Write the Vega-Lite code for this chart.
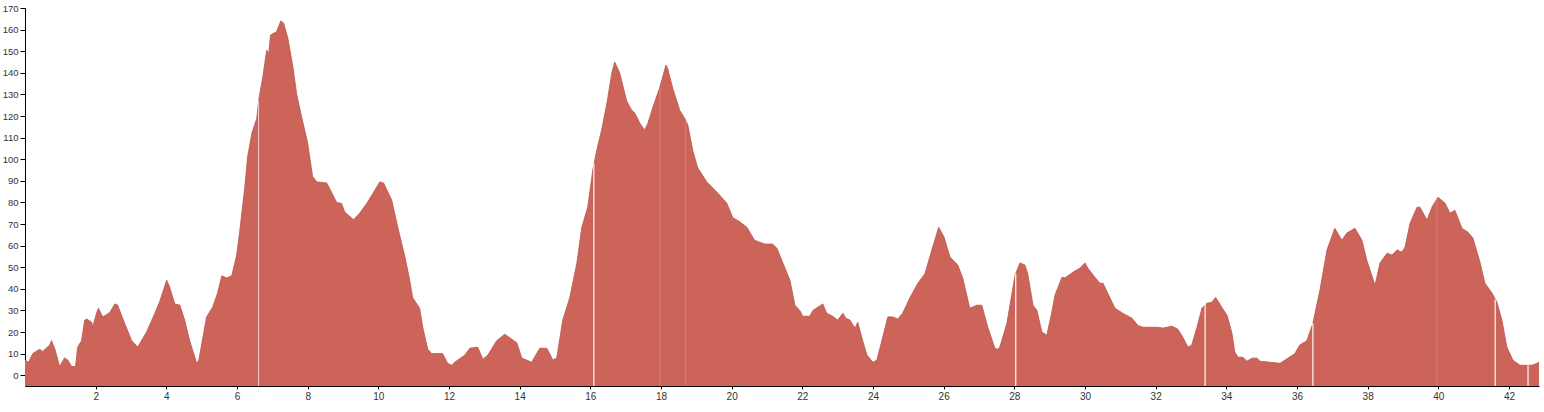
{
  "$schema": "https://vega.github.io/schema/vega-lite/v6.json",
  "width": 1514,
  "height": 378,
  "autosize": {"type": "none"},
  "padding": {"left": 25, "top": 8, "right": 5, "bottom": 26},
  "background": "white",
  "config": {"view": {"stroke": null}, "font": "Liberation Sans"},
  "datasets": {
    "profile": [
      {"km": 0.0, "elev": 7}, {"km": 0.1, "elev": 6}, {"km": 0.22, "elev": 10}, {"km": 0.41, "elev": 12},
      {"km": 0.5, "elev": 11}, {"km": 0.7, "elev": 14}, {"km": 0.75, "elev": 16}, {"km": 0.84, "elev": 12.5},
      {"km": 0.98, "elev": 4}, {"km": 1.12, "elev": 8}, {"km": 1.21, "elev": 7}, {"km": 1.32, "elev": 4},
      {"km": 1.43, "elev": 4}, {"km": 1.49, "elev": 13}, {"km": 1.6, "elev": 16}, {"km": 1.69, "elev": 25.5},
      {"km": 1.75, "elev": 26}, {"km": 1.89, "elev": 24.5}, {"km": 1.91, "elev": 22}, {"km": 2.03, "elev": 29},
      {"km": 2.08, "elev": 31}, {"km": 2.2, "elev": 27}, {"km": 2.4, "elev": 29}, {"km": 2.54, "elev": 33},
      {"km": 2.62, "elev": 32.5}, {"km": 2.82, "elev": 24}, {"km": 3.02, "elev": 16}, {"km": 3.19, "elev": 13},
      {"km": 3.44, "elev": 20}, {"km": 3.67, "elev": 28.5}, {"km": 3.81, "elev": 34}, {"km": 4.01, "elev": 44},
      {"km": 4.09, "elev": 41}, {"km": 4.24, "elev": 33}, {"km": 4.38, "elev": 32.5}, {"km": 4.52, "elev": 25.5},
      {"km": 4.66, "elev": 16}, {"km": 4.86, "elev": 5.5}, {"km": 4.92, "elev": 7}, {"km": 5.14, "elev": 27},
      {"km": 5.31, "elev": 31.5}, {"km": 5.45, "elev": 38}, {"km": 5.57, "elev": 46}, {"km": 5.71, "elev": 45},
      {"km": 5.85, "elev": 46}, {"km": 5.99, "elev": 55.5}, {"km": 6.08, "elev": 67}, {"km": 6.22, "elev": 87},
      {"km": 6.3, "elev": 101}, {"km": 6.42, "elev": 112}, {"km": 6.56, "elev": 119}, {"km": 6.61, "elev": 127},
      {"km": 6.73, "elev": 138}, {"km": 6.84, "elev": 150.5}, {"km": 6.9, "elev": 149}, {"km": 6.95, "elev": 157.5},
      {"km": 7.12, "elev": 159}, {"km": 7.24, "elev": 164}, {"km": 7.32, "elev": 163}, {"km": 7.44, "elev": 156},
      {"km": 7.58, "elev": 143}, {"km": 7.69, "elev": 130}, {"km": 7.83, "elev": 119.5}, {"km": 8.0, "elev": 107.5},
      {"km": 8.14, "elev": 92}, {"km": 8.26, "elev": 89.5}, {"km": 8.54, "elev": 89}, {"km": 8.62, "elev": 86.5},
      {"km": 8.82, "elev": 80}, {"km": 8.96, "elev": 79.5}, {"km": 9.05, "elev": 75.5}, {"km": 9.3, "elev": 72},
      {"km": 9.47, "elev": 75}, {"km": 9.67, "elev": 79.5}, {"km": 9.84, "elev": 84}, {"km": 10.04, "elev": 89.5},
      {"km": 10.15, "elev": 89}, {"km": 10.38, "elev": 81}, {"km": 10.55, "elev": 68.5}, {"km": 10.75, "elev": 55},
      {"km": 10.89, "elev": 44}, {"km": 10.97, "elev": 36}, {"km": 11.17, "elev": 31}, {"km": 11.26, "elev": 22},
      {"km": 11.4, "elev": 12}, {"km": 11.51, "elev": 10}, {"km": 11.82, "elev": 10}, {"km": 11.96, "elev": 5.5},
      {"km": 12.08, "elev": 4.6}, {"km": 12.16, "elev": 6}, {"km": 12.45, "elev": 9.3}, {"km": 12.59, "elev": 12.5},
      {"km": 12.81, "elev": 13}, {"km": 12.96, "elev": 7.4}, {"km": 13.1, "elev": 9.3}, {"km": 13.35, "elev": 16},
      {"km": 13.58, "elev": 19}, {"km": 13.92, "elev": 15}, {"km": 14.06, "elev": 8}, {"km": 14.34, "elev": 6},
      {"km": 14.57, "elev": 12.5}, {"km": 14.77, "elev": 12.5}, {"km": 14.94, "elev": 7}, {"km": 15.05, "elev": 8},
      {"km": 15.22, "elev": 25.5}, {"km": 15.42, "elev": 36}, {"km": 15.62, "elev": 52}, {"km": 15.76, "elev": 68.5},
      {"km": 15.93, "elev": 78}, {"km": 16.07, "elev": 95}, {"km": 16.18, "elev": 104}, {"km": 16.32, "elev": 113.5},
      {"km": 16.47, "elev": 126}, {"km": 16.61, "elev": 140}, {"km": 16.69, "elev": 145}, {"km": 16.83, "elev": 140},
      {"km": 17.03, "elev": 127}, {"km": 17.17, "elev": 122.7}, {"km": 17.26, "elev": 121.4}, {"km": 17.4, "elev": 116.7},
      {"km": 17.54, "elev": 113.5}, {"km": 17.63, "elev": 116.7}, {"km": 17.77, "elev": 124}, {"km": 17.97, "elev": 133.4},
      {"km": 18.14, "elev": 143.6}, {"km": 18.19, "elev": 142}, {"km": 18.33, "elev": 133}, {"km": 18.53, "elev": 122.7},
      {"km": 18.67, "elev": 119}, {"km": 18.76, "elev": 115.8}, {"km": 18.9, "elev": 104}, {"km": 19.04, "elev": 96},
      {"km": 19.3, "elev": 89.4}, {"km": 19.58, "elev": 84.8}, {"km": 19.86, "elev": 79.7}, {"km": 20.03, "elev": 73},
      {"km": 20.23, "elev": 71}, {"km": 20.43, "elev": 68.5}, {"km": 20.65, "elev": 62.5}, {"km": 20.79, "elev": 61.6},
      {"km": 20.94, "elev": 60.7}, {"km": 21.16, "elev": 60.7}, {"km": 21.28, "elev": 58.8}, {"km": 21.45, "elev": 52},
      {"km": 21.65, "elev": 44}, {"km": 21.79, "elev": 32.4}, {"km": 21.93, "elev": 30}, {"km": 22.01, "elev": 27.3},
      {"km": 22.21, "elev": 27.3}, {"km": 22.3, "elev": 30}, {"km": 22.44, "elev": 31.5}, {"km": 22.58, "elev": 33},
      {"km": 22.69, "elev": 28.7}, {"km": 22.86, "elev": 27.3}, {"km": 23.0, "elev": 25.5}, {"km": 23.15, "elev": 28.7},
      {"km": 23.23, "elev": 26.4}, {"km": 23.35, "elev": 25.5}, {"km": 23.49, "elev": 21.8}, {"km": 23.57, "elev": 24.5},
      {"km": 23.68, "elev": 17.6}, {"km": 23.83, "elev": 9.3}, {"km": 24.0, "elev": 6}, {"km": 24.11, "elev": 7},
      {"km": 24.25, "elev": 16}, {"km": 24.42, "elev": 27}, {"km": 24.56, "elev": 27}, {"km": 24.7, "elev": 26},
      {"km": 24.84, "elev": 28.7}, {"km": 25.04, "elev": 35.7}, {"km": 25.27, "elev": 42.6}, {"km": 25.47, "elev": 47},
      {"km": 25.69, "elev": 59.3}, {"km": 25.86, "elev": 68.5}, {"km": 26.01, "elev": 64}, {"km": 26.18, "elev": 54.7},
      {"km": 26.4, "elev": 51}, {"km": 26.54, "elev": 45}, {"km": 26.74, "elev": 31}, {"km": 26.94, "elev": 32.4},
      {"km": 27.08, "elev": 32.4}, {"km": 27.25, "elev": 22.2}, {"km": 27.45, "elev": 12.5}, {"km": 27.53, "elev": 12},
      {"km": 27.59, "elev": 13}, {"km": 27.79, "elev": 24}, {"km": 28.02, "elev": 46.3}, {"km": 28.16, "elev": 52},
      {"km": 28.3, "elev": 51}, {"km": 28.38, "elev": 47}, {"km": 28.53, "elev": 32.4}, {"km": 28.64, "elev": 30},
      {"km": 28.78, "elev": 20}, {"km": 28.92, "elev": 18.5}, {"km": 29.06, "elev": 29}, {"km": 29.15, "elev": 37},
      {"km": 29.35, "elev": 45.4}, {"km": 29.43, "elev": 45}, {"km": 29.66, "elev": 47.7}, {"km": 29.86, "elev": 49.6},
      {"km": 30.0, "elev": 52}, {"km": 30.08, "elev": 49.6}, {"km": 30.28, "elev": 45.4}, {"km": 30.42, "elev": 42.6},
      {"km": 30.51, "elev": 42.6}, {"km": 30.71, "elev": 35.7}, {"km": 30.85, "elev": 31}, {"km": 31.07, "elev": 28.7},
      {"km": 31.33, "elev": 26.4}, {"km": 31.5, "elev": 23}, {"km": 31.64, "elev": 22.2}, {"km": 32.03, "elev": 22.2},
      {"km": 32.21, "elev": 21.8}, {"km": 32.46, "elev": 22.7}, {"km": 32.63, "elev": 21.3}, {"km": 32.77, "elev": 17.6},
      {"km": 32.91, "elev": 13}, {"km": 33.02, "elev": 13.9}, {"km": 33.17, "elev": 22.2}, {"km": 33.31, "elev": 31},
      {"km": 33.45, "elev": 33.3}, {"km": 33.59, "elev": 33.8}, {"km": 33.7, "elev": 36}, {"km": 33.87, "elev": 31.5},
      {"km": 34.02, "elev": 27.8}, {"km": 34.16, "elev": 19.5}, {"km": 34.24, "elev": 10.7}, {"km": 34.33, "elev": 8.3},
      {"km": 34.47, "elev": 8.3}, {"km": 34.58, "elev": 6.5}, {"km": 34.73, "elev": 7.9}, {"km": 34.87, "elev": 7.9},
      {"km": 34.95, "elev": 6.5}, {"km": 35.23, "elev": 6}, {"km": 35.52, "elev": 5.5}, {"km": 35.66, "elev": 7},
      {"km": 35.94, "elev": 10}, {"km": 36.08, "elev": 14}, {"km": 36.28, "elev": 16}, {"km": 36.45, "elev": 24},
      {"km": 36.65, "elev": 39.4}, {"km": 36.85, "elev": 58}, {"km": 37.07, "elev": 68}, {"km": 37.27, "elev": 62.5},
      {"km": 37.41, "elev": 65.8}, {"km": 37.64, "elev": 68}, {"km": 37.84, "elev": 62.5}, {"km": 37.98, "elev": 53},
      {"km": 38.21, "elev": 41.7}, {"km": 38.35, "elev": 52}, {"km": 38.55, "elev": 56.5}, {"km": 38.69, "elev": 55.6},
      {"km": 38.83, "elev": 58}, {"km": 38.97, "elev": 57}, {"km": 39.06, "elev": 59.3}, {"km": 39.2, "elev": 70.4},
      {"km": 39.4, "elev": 77.8}, {"km": 39.48, "elev": 77.8}, {"km": 39.68, "elev": 71.8}, {"km": 39.82, "elev": 77.8},
      {"km": 39.99, "elev": 82.4}, {"km": 40.19, "elev": 79.7}, {"km": 40.33, "elev": 75}, {"km": 40.47, "elev": 76.4},
      {"km": 40.67, "elev": 68}, {"km": 40.84, "elev": 66.2}, {"km": 40.98, "elev": 63.5}, {"km": 41.18, "elev": 52.3},
      {"km": 41.32, "elev": 42.6}, {"km": 41.52, "elev": 38}, {"km": 41.66, "elev": 33.8}, {"km": 41.8, "elev": 25.5},
      {"km": 41.94, "elev": 13}, {"km": 42.11, "elev": 7}, {"km": 42.31, "elev": 4.6}, {"km": 42.65, "elev": 4.6},
      {"km": 42.79, "elev": 5.5}, {"km": 42.85, "elev": 6}
    ],
    "gaps": [
      {"km": 16.1, "elev": 98}, {"km": 28.04, "elev": 47}, {"km": 33.4, "elev": 33},
      {"km": 36.45, "elev": 24}, {"km": 41.61, "elev": 35}, {"km": 42.54, "elev": 4.6}
    ],
    "mediumGaps": [
      {"km": 6.61, "elev": 127}
    ],
    "faintGaps": [
      {"km": 17.97, "elev": 133}, {"km": 18.7, "elev": 118}, {"km": 39.96, "elev": 82}
    ]
  },
  "encoding": {
    "x": {"field": "km", "type": "quantitative", "scale": {"domain": [0, 42.85], "nice": false, "zero": false},
      "axis": {"title": null, "values": [2,4,6,8,10,12,14,16,18,20,22,24,26,28,30,32,34,36,38,40,42], "grid": false, "labelOverlap": false,
        "domainColor": "#000", "tickColor": "#000", "tickSize": 3, "labelPadding": 2, "labelFontSize": 10, "labelColor": "#333", "labelFont": "Liberation Sans"}},
    "y": {"field": "elev", "type": "quantitative", "scale": {"domain": [-5, 170], "nice": false, "zero": false},
      "axis": {"title": null, "values": [0,10,20,30,40,50,60,70,80,90,100,110,120,130,140,150,160,170], "grid": false, "labelOverlap": false, "labelBound": false,
        "domainColor": "#000", "tickColor": "#000", "tickSize": 5, "labelPadding": 2, "labelFontSize": 9.5, "labelColor": "#333", "labelFont": "Liberation Sans"}}
  },
  "layer": [
    {
      "data": {"name": "profile"},
      "mark": {"type": "area", "color": "#cd645a", "interpolate": "linear"},
      "encoding": {"y2": {"datum": -5}}
    },
    {
      "data": {"name": "profile"},
      "mark": {"type": "line", "color": "#b9554b", "strokeWidth": 0.8},
      "encoding": {}
    },
    {
      "data": {"name": "gaps"},
      "mark": {"type": "rule", "color": "#ffffff", "strokeWidth": 1.2, "opacity": 0.95},
      "encoding": {"y2": {"datum": -5}}
    },
    {
      "data": {"name": "mediumGaps"},
      "mark": {"type": "rule", "color": "#ffffff", "strokeWidth": 1, "opacity": 0.7},
      "encoding": {"y2": {"datum": -5}}
    },
    {
      "data": {"name": "faintGaps"},
      "mark": {"type": "rule", "color": "#ffffff", "strokeWidth": 1, "opacity": 0.2},
      "encoding": {"y2": {"datum": -5}}
    }
  ]
}
